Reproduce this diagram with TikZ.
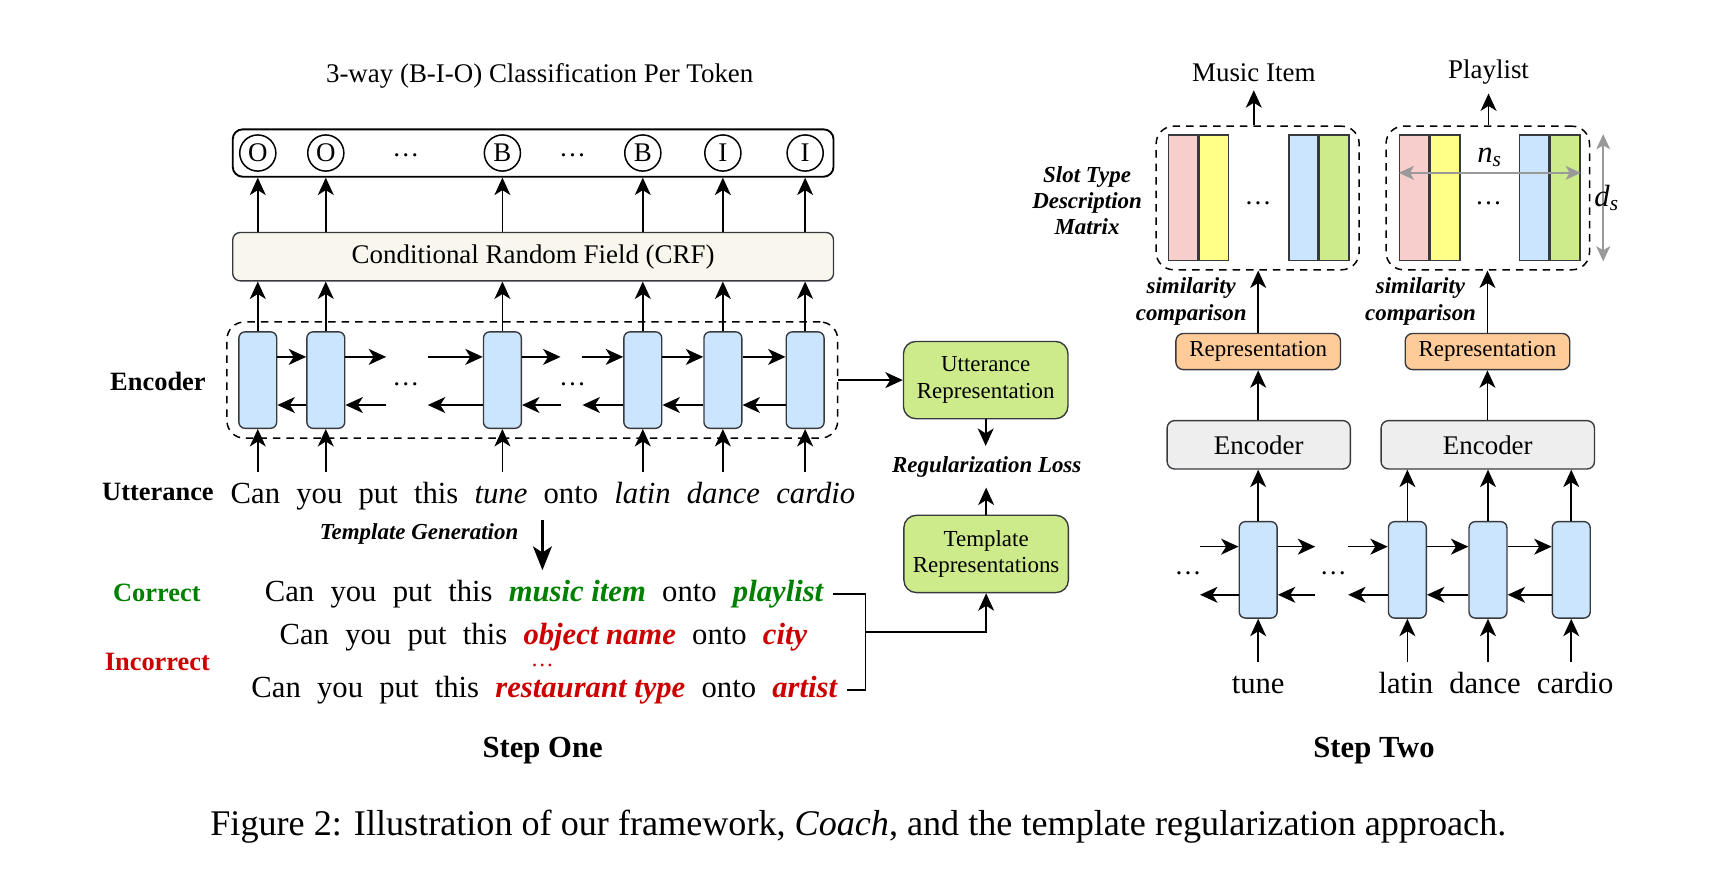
\documentclass[tikz,border=0pt]{standalone}
\usepackage{fontspec}
\setmainfont{Liberation Serif}
\usepackage{tikz}
\usetikzlibrary{arrows.meta,positioning,calc}
\definecolor{cCell}{HTML}{CCE5FF}
\definecolor{cLine}{HTML}{36393D}
\definecolor{cCrf}{HTML}{F9F7ED}
\definecolor{cRep}{HTML}{CDEB8B}
\definecolor{cOrange}{HTML}{FFCC99}
\definecolor{cEnc}{HTML}{EEEEEE}
\definecolor{cPink}{HTML}{F8CECC}
\definecolor{cYellow}{HTML}{FFFF88}
\definecolor{cOk}{HTML}{008000}
\definecolor{cBad}{HTML}{CC0000}
\definecolor{cDim}{HTML}{999999}
\newcommand{\fsMain}{\fontsize{10.8pt}{12.5pt}\selectfont}
\newcommand{\fsSmall}{\fontsize{9.2pt}{10.6pt}\selectfont}
\newcommand{\fsBig}{\fontsize{12.3pt}{14pt}\selectfont}
\newcommand{\fsCap}{\fontsize{14.5pt}{16pt}\selectfont}
\newcommand{\okslot}[1]{{\spaceskip=0pt\color{cOk}\bfseries\itshape #1}}
\newcommand{\badslot}[1]{{\spaceskip=0pt\color{cBad}\bfseries\itshape #1}}
\tikzset{
  arr/.style    = {-{Stealth[length=7pt, width=6.4pt, inset=2pt]}, line width=0.65pt},
  bigarr/.style = {-{Stealth[length=9.5pt, width=7.5pt, inset=2.4pt]}, line width=1.3pt},
  dim/.style    = {{Stealth[length=6pt, width=5.5pt, inset=1.5pt]}-{Stealth[length=6pt, width=5.5pt, inset=1.5pt]},
                   draw=cDim, line width=0.9pt},
  cell/.style   = {rectangle, rounded corners=2.5pt, draw=cLine, fill=cCell, line width=0.55pt,
                   minimum width=15.2pt, minimum height=38.7pt, inner sep=0pt},
  bio/.style    = {circle, draw, line width=0.6pt, minimum size=14.5pt, inner sep=0pt},
  bar/.style    = {rectangle, rounded corners=3pt, draw=cLine, line width=0.55pt, inner sep=0pt},
  grp/.style    = {rectangle, rounded corners=7pt, draw, dash pattern=on 3pt off 2.4pt,
                   line width=0.6pt, inner sep=0pt},
  rep/.style    = {rectangle, rounded corners=5pt, draw=cLine, fill=cRep, line width=0.55pt,
                   align=center, font=\fsSmall, minimum width=66pt, minimum height=31pt, inner sep=0pt},
  col/.style    = {rectangle, draw=cLine, line width=0.6pt, minimum width=11.8pt,
                   minimum height=50.4pt, inner sep=0pt},
  lab/.style    = {font=\fsSmall\bfseries\itshape, align=center, inner sep=1pt},
  side/.style   = {font=\fontsize{10.6pt}{12pt}\selectfont\bfseries, inner sep=1pt},
  word/.style   = {font=\fsBig, inner sep=3.8pt, text height=8.4pt, text depth=2.6pt},
  dots/.style   = {inner sep=0.5pt},
}

\begin{document}
\begin{tikzpicture}[x=0.44pt, y=-0.44pt, font=\fsMain]
  \useasboundingbox (0,0) rectangle (1568,808);

  % ---- step one: BiLSTM-CRF tagger ----
  \node (title) at (492,69) {3-way (B-I-O) Classification Per Token};
  \node[bar, fill=white, draw=black, line width=0.75pt, rounded corners=4pt, minimum width=241pt, minimum height=19pt] (outs) at (486,139.5) {};
  \node[bar, fill=cCrf, minimum width=241pt, minimum height=19.4pt] (crf) at (486,234) {Conditional Random Field (CRF)};
  \node[grp, minimum width=245pt, minimum height=46.6pt] (enc) at (485.3,346.5) {};
  \foreach \x/\t [count=\i] in {235/O,297/O,458/B,586/B,659/I,734/I} {
    \node[bio] (t\i) at (\x,139.5) {\t};
    \node[cell] (c\i) at (\x,346.5) {};
    \draw[arr] (c\i.north) -- (crf.south -| c\i);
    \draw[arr] (crf.north -| c\i) -- (outs.south -| t\i);
  }
  \node[dots] (da) at (370,142) {\ldots};
  \node[dots] (db) at (522,142) {\ldots};

  % recurrent links
  \coordinate (ga) at (352,346.5); \coordinate (gb) at (390,346.5);
  \coordinate (gc) at (511,346.5); \coordinate (gd) at (531,346.5);
  \foreach \a/\b in {1/2,4/5,5/6} {
    \draw[arr] ([yshift=9.3pt]c\a.east) -- ([yshift=9.3pt]c\b.west);
    \draw[arr] ([yshift=-10pt]c\b.west) -- ([yshift=-10pt]c\a.east);
  }
  \foreach \l/\p/\q/\r in {2/ga/gb/3,3/gc/gd/4} {
    \draw[arr] ([yshift=9.3pt]c\l.east) -- ([yshift=9.3pt]\p);
    \draw[arr] ([yshift=9.3pt]\q) -- ([yshift=9.3pt]c\r.west);
    \draw[arr] ([yshift=-10pt]\p) -- ([yshift=-10pt]c\l.east);
    \draw[arr] ([yshift=-10pt]c\r.west) -- ([yshift=-10pt]\q);
  }
  \node[dots] (dc) at (370,350) {\ldots};
  \node[dots] (dd) at (522,350) {\ldots};

  \node[side] (encl) at (144,348) {Encoder};
  \node[side, anchor=base] (uttl) at (144,456) {Utterance};
  \node[word, anchor=base] (utt) at (495,458.7)
    {\spaceskip=0.53em Can you put this \textit{tune} onto \textit{latin dance cardio}};
  \foreach \i in {1,...,6} \draw[arr] (utt.north -| c\i) -- (c\i.south);

  % templates
  \node[word, anchor=base] (tpl1) at (496,548)
    {\spaceskip=0.53em Can you put this \okslot{music item} onto \okslot{playlist}};
  \node[word, anchor=base] (tpl2) at (495.4,588)
    {\spaceskip=0.53em Can you put this \badslot{object name} onto \badslot{city}};
  \node[dots, text=cBad, font=\fsSmall] (de) at (494.5,607) {\ldots};
  \node[word, anchor=base] (tpl3) at (496.2,635.5)
    {\spaceskip=0.53em Can you put this \badslot{restaurant type} onto \badslot{artist}};
  \draw[bigarr] (utt.south -| de) -- (tpl1.north -| de);
  \node[lab] (tgen) at (382,487) {Template Generation};
  \node[side, anchor=base, text=cOk] (okl) at (143,548) {Correct};
  \node[side, anchor=base, text=cBad] (badl) at (143.5,611) {Incorrect};

  \coordinate (brk) at (789,576);
  \draw[line width=0.65pt] (tpl1.east) -- (brk |- tpl1.east) -- (brk |- tpl3.east) -- (tpl3.east);

  % regularization
  \node[rep] (urep) at (898.6,346.5) {Utterance\\Representation};
  \node[rep] (trep) at (899,505) {Template\\Representations};
  \node[lab, inner ysep=4pt] (rloss) at (899.5,425.5) {Regularization Loss};
  \draw[arr] (enc.east) -- (urep.west);
  \draw[arr] (urep.south) -- (rloss.north -| urep.south);
  \draw[arr] (trep.north) -- (rloss.south -| trep.north);
  \draw[arr] (brk) -| (trep.south);

  \node[font=\fsBig\bfseries, anchor=base] (one) at (494.7,691) {Step One};

  % ---- step two: slot value matching ----
  \node (mi) at (1143,66) {Music Item};
  \node (pl) at (1357,66) {Playlist};
  \node[grp, minimum width=81.4pt, minimum height=57.6pt] (m1) at (1146.5,180.5) {};
  \node[grp, minimum width=81.6pt, minimum height=57.6pt] (m2) at (1356.3,180.5) {};
  \foreach \m/\xa/\xb in {1/1078.5/1188.3, 2/1289.3/1398.8} {
    \node[col, fill=cPink] (pk\m) at (\xa,180.3) {};
    \node[col, fill=cYellow, right=0pt of pk\m] (ye\m) {};
    \node[col, fill=cCell] (bl\m) at (\xb,180.3) {};
    \node[col, fill=cRep, right=0pt of bl\m] (gn\m) {};
  }
  \node[dots] (df) at (1147,185) {\ldots};
  \node[dots] (dg) at (1357,185) {\ldots};
  \draw[arr] (m1.north -| mi) -- (mi.south);
  \draw[arr] (m2.north -| pl) -- (pl.south);

  \node[lab] (slot) at (991,183) {Slot Type\\Description\\Matrix};
  \draw[dim] ([yshift=10pt]pk2.west) -- node[above, inner sep=2pt, font=\fsBig] (ns) {\textit{n\textsubscript{s}}} ([yshift=10pt]gn2.east);
  \draw[dim] ([xshift=9pt]gn2.north east) -- node[font=\fsBig, xshift=1.5pt, inner sep=0pt] (ds) {\textit{d\textsubscript{s}}} ([xshift=9pt]gn2.south east);

  \node[bar, fill=cOrange, font=\fsSmall, minimum width=66pt, minimum height=14.5pt] (r1) at (1147,320.5) {Representation};
  \node[bar, fill=cOrange, font=\fsSmall, minimum width=66pt, minimum height=14.5pt] (r2) at (1356,320.5) {Representation};
  \node[lab] (sim1) at (1086,275) {similarity\\comparison};
  \node[lab] (sim2) at (1295,275) {similarity\\comparison};
  \draw[arr] (r1.north) -- (m1.south -| r1);
  \draw[arr] (r2.north) -- (m2.south -| r2);

  \node[bar, fill=cEnc, minimum width=73.5pt, minimum height=19.4pt] (e1) at (1147.5,405.5) {Encoder};
  \node[bar, fill=cEnc, minimum width=85.6pt, minimum height=19.4pt] (e2) at (1356.3,405.5) {Encoder};
  \draw[arr] (e1.north -| r1) -- (r1.south);
  \draw[arr] (e2.north -| r2) -- (r2.south);

  \node[cell] (rc1) at (1147,519.5) {};
  \node[cell] (rc2) at (1283,519.5) {};
  \node[cell] (rc3) at (1356.5,519.5) {};
  \node[cell] (rc4) at (1432.4,519.5) {};
  \draw[arr] (rc1.north) -- (e1.south -| rc1);
  \foreach \i in {2,3,4} \draw[arr] (rc\i.north) -- (e2.south -| rc\i);

  \coordinate (ha) at (1094,519.5); \coordinate (hb) at (1199,519.5); \coordinate (hc) at (1229,519.5);
  \draw[arr] ([yshift=9.3pt]ha) -- ([yshift=9.3pt]rc1.west);
  \draw[arr] ([yshift=9.3pt]rc1.east) -- ([yshift=9.3pt]hb);
  \draw[arr] ([yshift=9.3pt]hc) -- ([yshift=9.3pt]rc2.west);
  \draw[arr] ([yshift=-10pt]rc1.west) -- ([yshift=-10pt]ha);
  \draw[arr] ([yshift=-10pt]hb) -- ([yshift=-10pt]rc1.east);
  \draw[arr] ([yshift=-10pt]rc2.west) -- ([yshift=-10pt]hc);
  \foreach \a/\b in {2/3,3/4} {
    \draw[arr] ([yshift=9.3pt]rc\a.east) -- ([yshift=9.3pt]rc\b.west);
    \draw[arr] ([yshift=-10pt]rc\b.west) -- ([yshift=-10pt]rc\a.east);
  }
  \node[dots] (dh) at (1083,522.5) {\ldots};
  \node[dots] (di) at (1215.6,522.5) {\ldots};

  \foreach \x/\w [count=\i] in {1147/tune, 1281.6/latin, 1353.8/dance, 1436/cardio} {
    \node[word, anchor=base] (rw\i) at (\x,632) {\w};
    \draw[arr] (rc\i |- rw\i.north) -- (rc\i.south);
  }

  \node[font=\fsBig\bfseries, anchor=base] (two) at (1252.6,691) {Step Two};

  % caption
  \node[font=\fsCap, anchor=base] (cap) at (782.5,762)
    {Figure 2: Illustration of our framework, \textit{Coach}, and the template regularization approach.};
\end{tikzpicture}
\end{document}
